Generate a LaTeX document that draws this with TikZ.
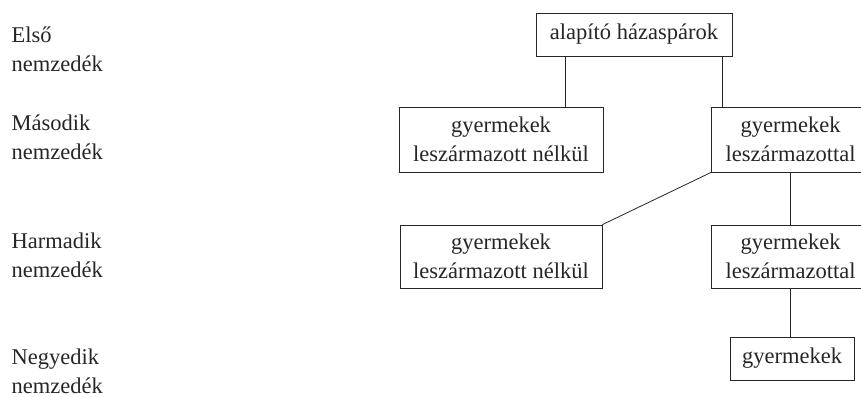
\documentclass[tikz,border=0pt]{standalone}
\usepackage{fontspec}
\setmainfont{Liberation Serif}
\definecolor{ink}{HTML}{262626}
\begin{document}
\begin{tikzpicture}[x=1pt,y=-1pt,
  every node/.style={text=ink,font=\fontsize{22.5}{28.5}\selectfont},
  box/.style={draw=ink,line width=0.8pt,inner sep=0pt,align=center},
  gen/.style={anchor=base west,align=left,inner sep=0pt,font=\fontsize{22.5}{29}\selectfont},
  link/.style={draw=ink,line width=0.8pt}]
\useasboundingbox (0,0) rectangle (861,396);
% generation labels (anchor at the baseline of the last line)
\node[gen] (g1) at (11.5,71.7) {Első\\nemzedék};
\node[gen] (g2) at (11.5,159) {Második\\nemzedék};
\node[gen] (g3) at (11.5,277) {Harmadik\\nemzedék};
\node[gen] (g4) at (11.5,393) {Negyedik\\nemzedék};
% boxes
\node[box,minimum width=196,minimum height=43] (top) at (634,34.5) {alapító házaspárok};
\node[box,minimum width=204,minimum height=65] (m1) at (501,139.5) {gyermekek\\leszármazott nélkül};
\node[box,minimum width=158,minimum height=65] (m2) at (790.5,139.5) {gyermekek\\leszármazottal};
\node[box,minimum width=202,minimum height=63] (h1) at (501,256.5) {gyermekek\\leszármazott nélkül};
\node[box,minimum width=158,minimum height=63] (h2) at (790.5,256.5) {gyermekek\\leszármazottal};
\node[box,minimum width=124,minimum height=43] (n) at (792,358.5) {gyermekek};
% connectors
\draw[link] ([xshift=-68.5]top.south) -- ([xshift=-68.5]top.south |- m1.north);
\draw[link] ([xshift=88.5]top.south) -- ([xshift=88.5]top.south |- m2.north);
\draw[link] (m2.south west) -- (h1.north east);
\draw[link] (m2.south) -- (h2.north);
\draw[link] (h2.south) -- (h2.south |- n.north);
\end{tikzpicture}
\end{document}
